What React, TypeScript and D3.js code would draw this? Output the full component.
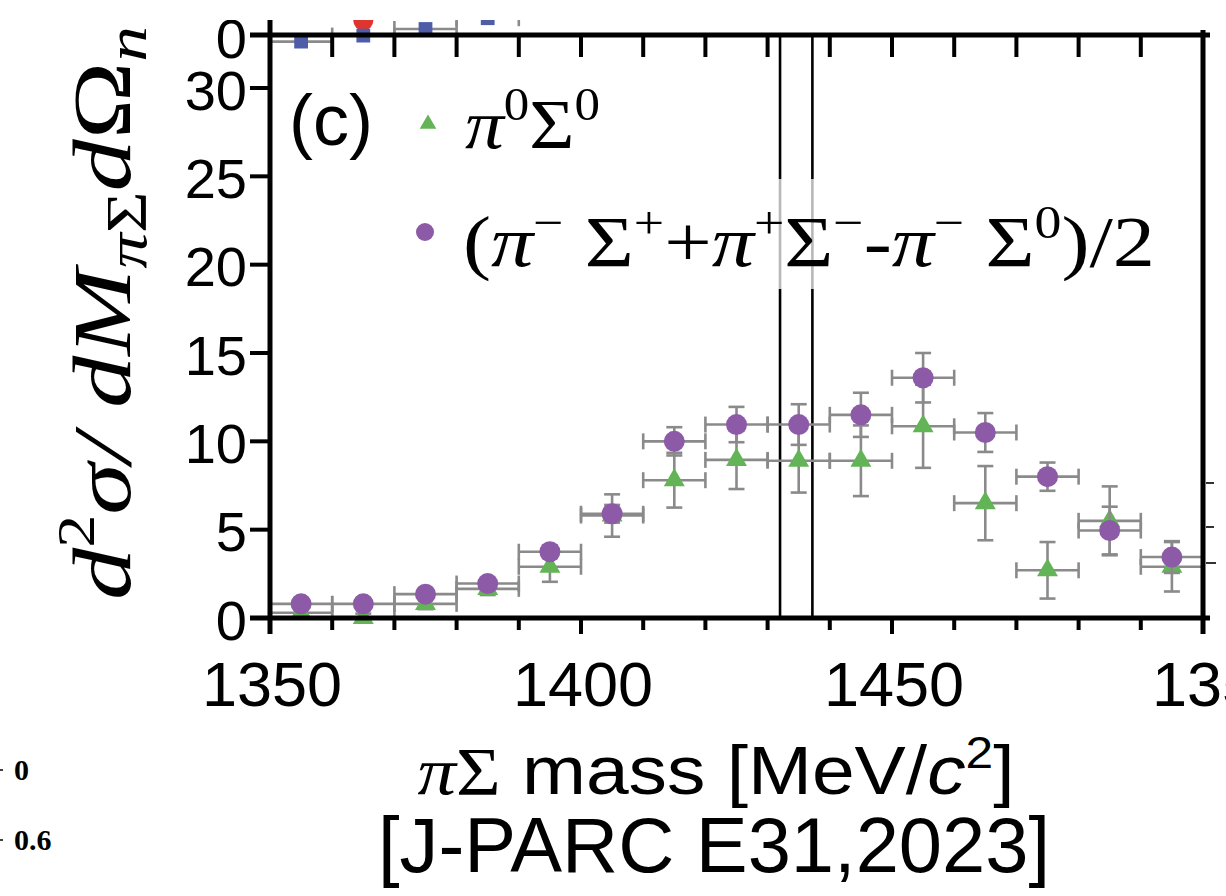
import React from "react";
import * as d3 from "d3";

// πΣ invariant-mass bin centres [MeV/c²], 10 MeV bins
const massBins = [1355, 1365, 1375, 1385, 1395, 1405, 1415, 1425, 1435, 1445, 1455, 1465, 1475, 1485, 1495];
const binHalfWidth = 5;

// π0Σ0 spectrum
const pi0Sigma0 = [0.3, 0.0, 0.8, 1.65, 2.9, 5.8, 7.8, 8.95, 8.9, 8.9, 10.85, 6.5, 2.7, 5.5, 2.9];
const pi0Sigma0Err = [0.25, 0.25, 0.3, 0.35, 0.85, 1.2, 1.55, 1.65, 1.8, 2.0, 2.35, 2.1, 1.6, 1.95, 1.4];

// (π−Σ+ + π+Σ− − π−Σ0)/2 combination
const chargedCombo = [0.8, 0.8, 1.35, 1.95, 3.75, 5.9, 10.0, 10.95, 10.95, 11.5, 13.6, 10.5, 8.0, 4.95, 3.45];
const chargedComboErr = [0.15, 0.15, 0.2, 0.25, 0.35, 0.5, 0.8, 1.0, 1.15, 1.25, 1.4, 1.1, 0.8, 1.35, 0.9];

// K̄N thresholds (K−p, K̄0n)
const kbarNThresholds = [1432.0, 1437.2];

// axis ticks
const yTicks = [0, 5, 10, 15, 20, 25, 30];
const xLabelTicks = [1350, 1400, 1450];
const xMajorTicks = [1350, 1400, 1450, 1500];
const xMinorTicks = [1360, 1370, 1380, 1390, 1410, 1420, 1430, 1440, 1460, 1470, 1480, 1490];

// panel above (only its lowest part shows)
const upperMass = [1355, 1365, 1375, 1385];
const upperBlue = [-0.55, -0.05, 0.5, 1.4];
const upperRedMass = [1355, 1365];
const upperRed = [2.4, 1.2];

const GREEN = "#63b456";
const PURPLE = "#8c5aa6";
const BAR = "#8a8a8a";
const SANS = "'Liberation Sans', Arial, Helvetica, sans-serif";
const SERIF = "'Liberation Serif', 'Times New Roman', serif";

export default function App() {
  const x = d3.scaleLinear().domain([1350, 1500]).range([270, 1203]);
  const y = d3.scaleLinear().domain([0, 33]).range([618, 35]);
  const yUp = d3.scaleLinear().domain([0, 1]).range([35, 23]);

  const tri = d3.symbol().type(d3.symbolTriangle).size(190)();
  const triLegend = d3.symbol().type(d3.symbolTriangle).size(120)();
  const square = d3.symbol().type(d3.symbolSquare).size(190)();

  const errorBars = (vals: number[], errs: number[], key: string) =>
    massBins.map((m, i) => {
      const cx = x(m);
      const cy = y(vals[i]);
      const x0 = x(m - binHalfWidth);
      const x1 = x(m + binHalfWidth);
      const yt = y(vals[i] + errs[i]);
      const yb = y(vals[i] - errs[i]);
      return (
        <g key={key + i} stroke={BAR} strokeWidth={2.6} fill="none">
          <line x1={x0} x2={x1} y1={cy} y2={cy} />
          <line x1={x0} x2={x0} y1={cy - 8} y2={cy + 8} />
          <line x1={x1} x2={x1} y1={cy - 8} y2={cy + 8} />
          <line x1={cx} x2={cx} y1={yt} y2={yb} />
          <line x1={cx - 8} x2={cx + 8} y1={yt} y2={yt} />
          <line x1={cx - 8} x2={cx + 8} y1={yb} y2={yb} />
        </g>
      );
    });

  const supUp = -28;

  return (
    <svg
      width={1226}
      height={896}
      style={{ position: "absolute", left: 0, top: 0, display: "block", background: "#fff" }}
    >
      <defs>
        <clipPath id="upperClip">
          <rect x={0} y={20} width={1226} height={876} />
        </clipPath>
      </defs>
      <rect width={1226} height={896} fill="#fff" />

      {/* lowest strip of the panel above */}
      <g clipPath="url(#upperClip)">
        {upperRedMass.map((m, i) => (
          <circle key={"r" + i} cx={x(m)} cy={yUp(upperRed[i])} r={10} fill="#e0352f" />
        ))}
        {upperMass.map((m, i) => (
          <g key={"b" + i}>
            <g stroke={BAR} strokeWidth={2.6}>
              <line x1={x(m - binHalfWidth)} x2={x(m + binHalfWidth)} y1={yUp(upperBlue[i])} y2={yUp(upperBlue[i])} />
              <line x1={x(m - binHalfWidth)} x2={x(m - binHalfWidth)} y1={yUp(upperBlue[i]) - 8} y2={yUp(upperBlue[i]) + 8} />
              <line x1={x(m + binHalfWidth)} x2={x(m + binHalfWidth)} y1={yUp(upperBlue[i]) - 8} y2={yUp(upperBlue[i]) + 8} />
            </g>
            <path d={square} transform={`translate(${x(m)},${yUp(upperBlue[i])})`} fill="#4f5da9" />
          </g>
        ))}
        <text x={247} y={38} textAnchor="end" dominantBaseline="central" fontFamily={SANS} fontSize={56}>
          0
        </text>
      </g>

      {/* K̄N threshold lines */}
      {kbarNThresholds.map((t, i) => (
        <line key={"th" + i} x1={x(t)} x2={x(t)} y1={35} y2={618} stroke="#000" strokeWidth={2.6} />
      ))}
      <rect x={455} y={179} width={705} height={110} fill="#fff" opacity={0.72} />

      {/* data */}
      {errorBars(pi0Sigma0, pi0Sigma0Err, "g")}
      {massBins.map((m, i) => (
        <path key={"gt" + i} d={tri} transform={`translate(${x(m)},${y(pi0Sigma0[i])})`} fill={GREEN} />
      ))}
      {errorBars(chargedCombo, chargedComboErr, "p")}
      {massBins.map((m, i) => (
        <circle key={"pc" + i} cx={x(m)} cy={y(chargedCombo[i])} r={10.5} fill={PURPLE} />
      ))}

      {/* frame */}
      <g stroke="#000" strokeWidth={5}>
        <line x1={270} x2={270} y1={20} y2={634} />
        <line x1={1203} x2={1203} y1={30} y2={634} />
        <line x1={250} x2={1210} y1={618} y2={618} />
        <line x1={250} x2={1210} y1={35} y2={35} />
      </g>
      <g stroke="#000" strokeWidth={4}>
        {yTicks.map((t) => (
          <line key={"yt" + t} x1={250} x2={270} y1={y(t)} y2={y(t)} />
        ))}
        {xMajorTicks.map((t) => (
          <line key={"xM" + t} x1={x(t)} x2={x(t)} y1={618} y2={634} />
        ))}
        {xMinorTicks.map((t) => (
          <line key={"xm" + t} x1={x(t)} x2={x(t)} y1={618} y2={630} />
        ))}
        {xMinorTicks.concat([1400, 1450]).map((t) => (
          <line key={"xt" + t} x1={x(t)} x2={x(t)} y1={35} y2={57} />
        ))}
      </g>
      {/* neighbouring panel ticks at the right edge */}
      <g stroke="#333" strokeWidth={2}>
        <line x1={1206} x2={1214} y1={483} y2={483} />
        <line x1={1206} x2={1214} y1={527} y2={527} />
        <line x1={1206} x2={1216} y1={563} y2={563} />
      </g>

      {/* tick labels */}
      {yTicks.map((t) => (
        <text key={"yl" + t} x={247} y={y(t) + 2} textAnchor="end" dominantBaseline="central" fontFamily={SANS} fontSize={56}>
          {t}
        </text>
      ))}
      {xLabelTicks.map((t) => (
        <text key={"xl" + t} x={x(t) + 2} y={706} textAnchor="middle" fontFamily={SANS} fontSize={63}>
          {t}
        </text>
      ))}
      <text x={1222} y={706} textAnchor="middle" fontFamily={SANS} fontSize={63}>
        1350
      </text>

      {/* axis titles */}
      <text
        x={716}
        y={794}
        textAnchor="middle"
        fontFamily={SANS}
        fontSize={68}
        textLength={597}
        lengthAdjust="spacingAndGlyphs"
      >
        <tspan fontFamily={SERIF} fontStyle="italic">π</tspan>
        <tspan fontFamily={SERIF}>Σ</tspan>
        {" mass [MeV/"}
        <tspan fontStyle="italic">c</tspan>
        <tspan dy={-26} fontSize={44}>2</tspan>
        <tspan dy={26}>]</tspan>
      </text>
      <text
        x={714}
        y={872}
        textAnchor="middle"
        fontFamily={SANS}
        fontSize={78}
        textLength={672}
        lengthAdjust="spacingAndGlyphs"
      >
        [J-PARC E31,2023]
      </text>
      <text
        transform="translate(130,313) rotate(-90)"
        textAnchor="middle"
        fontFamily={SERIF}
        fontStyle="italic"
        fontSize={82}
        textLength={574}
        lengthAdjust="spacingAndGlyphs"
      >
        d
        <tspan dy={-36} fontSize={52} fontStyle="normal">2</tspan>
        <tspan dy={36}>σ/ dM</tspan>
        <tspan dy={16} fontSize={56}>π</tspan>
        <tspan fontSize={56} fontStyle="normal">Σ</tspan>
        <tspan dy={-16}>d</tspan>
        <tspan fontStyle="normal">Ω</tspan>
        <tspan dy={16} fontSize={56}>n</tspan>
      </text>

      {/* legend */}
      <text x={289} y={145} fontFamily={SANS} fontSize={72}>
        (c)
      </text>
      <path d={triLegend} transform="translate(428,124)" fill={GREEN} />
      <text x={465} y={148} fontFamily={SERIF} fontSize={70} textLength={135} lengthAdjust="spacingAndGlyphs">
        <tspan fontStyle="italic">π</tspan>
        <tspan dy={supUp} fontSize={46}>0</tspan>
        <tspan dy={-supUp}>Σ</tspan>
        <tspan dy={supUp} fontSize={46}>0</tspan>
      </text>
      <circle cx={425} cy={232} r={9} fill={PURPLE} />
      <text x={463} y={266} fontFamily={SERIF} fontSize={72} textLength={692} lengthAdjust="spacingAndGlyphs">
        (<tspan fontStyle="italic">π</tspan>
        <tspan dy={supUp} fontSize={46}>−</tspan>
        <tspan dy={-supUp}> Σ</tspan>
        <tspan dy={supUp} fontSize={46}>+</tspan>
        <tspan dy={-supUp}>+</tspan>
        <tspan fontStyle="italic">π</tspan>
        <tspan dy={supUp} fontSize={46}>+</tspan>
        <tspan dy={-supUp}>Σ</tspan>
        <tspan dy={supUp} fontSize={46}>−</tspan>
        <tspan dy={-supUp}>-</tspan>
        <tspan fontStyle="italic">π</tspan>
        <tspan dy={supUp} fontSize={46}>−</tspan>
        <tspan dy={-supUp}> Σ</tspan>
        <tspan dy={supUp} fontSize={46}>0</tspan>
        <tspan dy={-supUp}>)/2</tspan>
      </text>

      {/* labels of a neighbouring axis at the lower left */}
      <g stroke="#000" strokeWidth={1.5}>
        <line x1={0} x2={3} y1={770} y2={770} />
        <line x1={0} x2={3} y1={840} y2={840} />
      </g>
      <text x={14} y={780} fontFamily={SERIF} fontWeight="bold" fontSize={30}>
        0
      </text>
      <text x={14} y={850} fontFamily={SERIF} fontWeight="bold" fontSize={30}>
        0.6
      </text>
    </svg>
  );
}
